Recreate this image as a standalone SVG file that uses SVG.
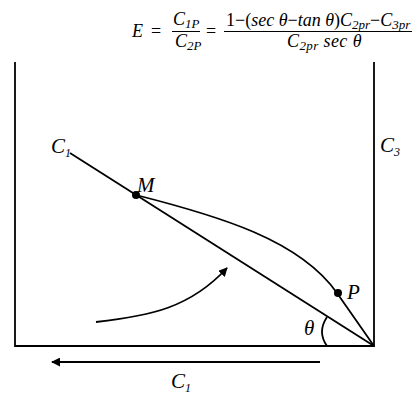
<svg xmlns="http://www.w3.org/2000/svg" width="412" height="395" viewBox="0 0 412 395">
<style>
.ln{fill:none;stroke:#000;stroke-width:1.8}
.lbl{font-family:"Liberation Serif","Times New Roman",serif;font-style:italic;font-size:21px;fill:#000}
.sub{font-size:12px}
.eq{font-family:"Liberation Serif","DejaVu Serif",serif;font-style:italic;font-size:18px;fill:#000}
.es{font-size:13px}
.up{font-style:normal}
</style>
<defs>
<marker id="ah" viewBox="0 0 10 10" refX="9" refY="5" markerWidth="5" markerHeight="5" orient="auto" markerUnits="strokeWidth">
<path d="M0,0 L10,5 L0,10 z" fill="#000"/>
</marker>
</defs>
<rect width="412" height="395" fill="#fff"/>
<g id="equation">
<text class="eq" x="132" y="37" font-size="19">E</text>
<text class="eq up" x="151" y="37">=</text>
<text class="eq" x="173" y="25">C<tspan class="es" dy="3">1P</tspan></text>
<line x1="172" y1="31.5" x2="200" y2="31.5" stroke="#000" stroke-width="1"/>
<text class="eq" x="175" y="47">C<tspan class="es" dy="3">2P</tspan></text>
<text class="eq up" x="206" y="37">=</text>
<text class="eq" x="226" y="26"><tspan class="up">1−(</tspan>sec θ<tspan class="up">−</tspan>tan θ<tspan class="up">)</tspan>C<tspan class="es" dy="3">2pr</tspan><tspan class="up" dy="-3">−</tspan>C<tspan class="es" dy="3">3pr</tspan></text>
<line x1="224" y1="31.5" x2="412" y2="31.5" stroke="#000" stroke-width="1"/>
<text class="eq" x="287" y="47" letter-spacing="0.4">C<tspan class="es" dy="3">2pr</tspan><tspan dy="-3"> sec θ</tspan></text>
</g>
<g id="container">
<polyline class="ln" points="15,62 15,346 374,346 374,62"/>
</g>
<g id="connectors">
<line class="ln" x1="70" y1="153" x2="374" y2="346"/>
<path class="ln" d="M136,195 C219,216 300,240 337,293 L374,346"/>
<path class="ln" d="M327,317 Q317,332 327,346"/>
<path class="ln" d="M96,322 C150,316 190,308 227,268" marker-end="url(#ah)"/>
<line class="ln" x1="320" y1="362" x2="52" y2="362" marker-end="url(#ah)"/>
</g>
<g id="M"><circle cx="136" cy="195" r="4" fill="#000"/><text class="lbl" x="137" y="192">M</text></g>
<g id="P"><circle cx="338" cy="293" r="4" fill="#000"/><text class="lbl" x="347" y="299">P</text></g>
<g id="theta"><text class="lbl" x="304" y="335">θ</text></g>
<g id="C1-left"><text class="lbl" x="51" y="153">C<tspan class="sub" dy="4">1</tspan></text></g>
<g id="C3"><text class="lbl" x="380" y="152">C<tspan class="sub" dy="4">3</tspan></text></g>
<g id="C1-bottom"><text class="lbl" x="171" y="388">C<tspan class="sub" dy="4">1</tspan></text></g>
</svg>
